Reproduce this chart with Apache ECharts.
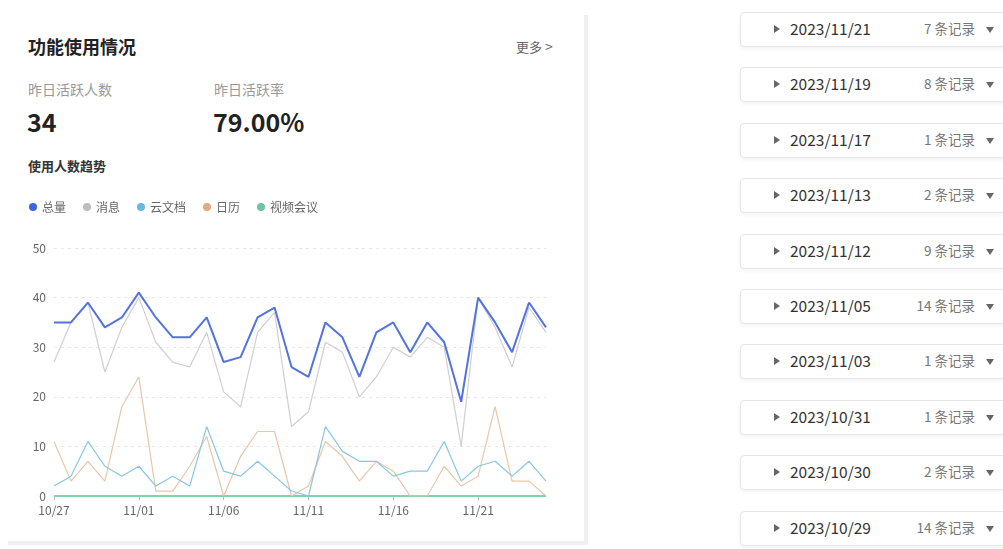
<!DOCTYPE html>
<html><head><meta charset="utf-8">
<script src="https://cdn.jsdelivr.net/npm/echarts@6/dist/echarts.min.js"></script>
<style>
html,body{margin:0;padding:0;background:#fff;width:1003px;height:549px;overflow:hidden;font-family:"Noto Sans CJK SC","Noto Sans",sans-serif;}
.card{position:absolute;left:6px;top:13px;width:578px;height:528px;background:#fff;box-shadow:3px 3px 0 1px #efefef;}
.t{position:absolute;white-space:nowrap;line-height:1;}
.item{position:absolute;left:740px;width:290px;height:33px;border:1px solid #e6e6e6;border-radius:4px;box-shadow:0 2px 4px rgba(0,0,0,0.05);background:#fff;}
.item .tri{position:absolute;left:33px;top:12px;width:0;height:0;border-top:4px solid transparent;border-bottom:4px solid transparent;border-left:6px solid #666;}
.item .d{position:absolute;left:49px;top:7px;font-size:15.5px;line-height:1.1;color:#333;}
.item .c{position:absolute;right:56px;top:8px;font-size:13.5px;line-height:1.1;color:#777;text-align:right;}
.item .v{position:absolute;left:245px;top:14px;width:0;height:0;border-left:4px solid transparent;border-right:4px solid transparent;border-top:6px solid #666;}
#chart{position:absolute;left:0;top:190px;width:590px;height:350px;}
</style></head>
<body>
<div class="card"></div>
<div class="t" style="left:28px;top:37px;font-size:18px;font-weight:700;color:#222;">功能使用情况</div>
<div class="t" style="left:516px;top:39px;font-size:13px;color:#666;">更多 <span style="font-size:14px;">&gt;</span></div>
<div class="t" style="left:28px;top:82px;font-size:14px;color:#999;">昨日活跃人数</div>
<div class="t" style="left:214px;top:82px;font-size:14px;color:#999;">昨日活跃率</div>
<div class="t" style="left:27px;top:109px;font-size:25px;font-weight:700;color:#222;">34</div>
<div class="t" style="left:213px;top:109px;font-size:25px;font-weight:700;color:#222;">79.00%</div>
<div class="t" style="left:28px;top:159px;font-size:13px;font-weight:700;color:#333;">使用人数趋势</div>
<div id="list"></div>
<div id="chart"></div>
<script>
var dates = ['10/27','10/28','10/29','10/30','10/31','11/01','11/02','11/03','11/04','11/05','11/06','11/07','11/08','11/09','11/10','11/11','11/12','11/13','11/14','11/15','11/16','11/17','11/18','11/19','11/20','11/21','11/22','11/23','11/24','11/25'];
var total   = [35,35,39,34,36,41,36,32,32,36,27,28,36,38,26,24,35,32,24,33,35,29,35,31,19,40,35,29,39,34];
var message = [27,35,39,25,34,40,31,27,26,33,21,18,33,37,14,17,31,29,20,24,30,28,32,30,10,40,34,26,38,33];
var docs    = [2,4,11,6,4,6,2,4,2,14,5,4,7,4,1,0,14,9,7,7,4,5,5,11,3,6,7,4,7,3];
var calendar= [11,3,7,3,18,24,1,1,6,12,0,8,13,13,0,2,11,8,3,7,5,0,0,6,2,4,18,3,3,0];
var meeting = [0,0,0,0,0,0,0,0,0,0,0,0,0,0,0,0,0,0,0,0,0,0,0,0,0,0,0,0,0,0];
var seriesNames = ['总量','消息','云文档','日历','视频会议'];
var yTicks = [0,10,20,30,40,50];

var recordDates = ['2023/11/21','2023/11/19','2023/11/17','2023/11/13','2023/11/12','2023/11/05','2023/11/03','2023/10/31','2023/10/30','2023/10/29'];
var recordCounts = [7,8,1,2,9,14,1,1,2,14];

var list = document.getElementById('list');
recordDates.forEach(function(d,i){
  var el = document.createElement('div');
  el.className = 'item';
  el.style.top = (12 + i*55.4) + 'px';
  el.innerHTML = '<span class="tri"></span><span class="d">'+d+'</span><span class="c">'+recordCounts[i]+' 条记录</span><span class="v"></span>';
  list.appendChild(el);
});

var legendColors = ['#3f64de','#bdbdbd','#6ab8e2','#e2ab80','#6cc4a0'];
var lineColors   = ['#5273e0','#cfcfcf','#86c6e6','#e9c6a8','#86cfb0'];
var widths = [2,1.2,1.2,1.2,2];
var datas = [total,message,docs,calendar,meeting];

var chart = echarts.init(document.getElementById('chart'));
chart.setOption({
  animation:false,
  legend:{
    left:24, top:6, icon:'circle', itemWidth:8, itemHeight:8, itemGap:17,
    textStyle:{color:'#666', fontSize:12, fontFamily:'Noto Sans CJK SC'},
    data:seriesNames
  },
  grid:{left:54, right:44, top:58, bottom:44},
  xAxis:{
    type:'category', boundaryGap:false, data:dates,
    axisLine:{lineStyle:{color:'#cccccc'}},
    axisTick:{show:true, interval:4, length:4, lineStyle:{color:'#bbb'}},
    axisLabel:{interval:4, color:'#666', fontSize:12, margin:8, fontFamily:'Noto Sans CJK SC'}
  },
  yAxis:{
    type:'value', min:0, max:50, interval:10,
    axisLabel:{color:'#666', fontSize:12, margin:8, fontFamily:'Noto Sans CJK SC'},
    splitLine:{lineStyle:{color:'#e8e8e8', type:[3,4]}},
    axisLine:{show:false}, axisTick:{show:false}
  },
  series: seriesNames.map(function(n,i){
    return {
      name:n, type:'line', data:datas[i], showSymbol:false, symbol:'circle',
      z: 10 - i,
      itemStyle:{color:legendColors[i]},
      lineStyle:{color:lineColors[i], width:widths[i]}
    };
  })
});
</script>
</body></html>
